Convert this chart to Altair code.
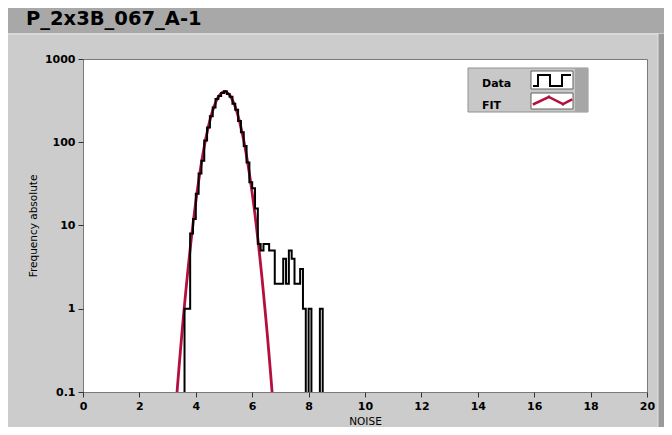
import altair as alt
import pandas as pd

# ---------------- data ----------------
# histogram (left bin edges, bin width 0.1) and counts
bin_left = [3.5, 3.6, 3.7, 3.8, 3.9, 4.0, 4.1, 4.2, 4.3, 4.4, 4.5, 4.6, 4.7, 4.8, 4.9,
            5.0, 5.1, 5.2, 5.3, 5.4, 5.5, 5.6, 5.7, 5.8, 5.9, 6.0, 6.1, 6.2, 6.3, 6.4,
            6.5, 6.6, 6.7, 6.8, 6.9, 7.0, 7.1, 7.2, 7.3, 7.4, 7.5, 7.6, 7.7, 7.8, 7.9,
            8.0, 8.1, 8.2, 8.3, 8.4, 8.5, 8.6]
counts = [0, 1, 1, 8, 12, 24, 42, 60, 105, 150, 205, 262, 330, 360, 390,
          410, 380, 352, 290, 245, 180, 132, 90, 57, 33, 28, 16, 6, 5, 6,
          6, 5, 5, 2, 2, 2, 4, 2, 5, 4, 2, 2, 3, 1, 0,
          1, 0, 0, 0, 1, 0, 0]

# fitted curve (x, frequency)
fit_x = [3.30, 3.35, 3.40, 3.45, 3.50, 3.55, 3.60, 3.65, 3.70, 3.75, 3.80, 3.85, 3.90,
         3.95, 4.00, 4.05, 4.10, 4.15, 4.20, 4.25, 4.30, 4.35, 4.40, 4.45, 4.50, 4.55,
         4.60, 4.65, 4.70, 4.75, 4.80, 4.85, 4.90, 4.95, 5.00, 5.05, 5.10, 5.15, 5.20,
         5.25, 5.30, 5.35, 5.40, 5.45, 5.50, 5.55, 5.60, 5.65, 5.70, 5.75, 5.80, 5.85,
         5.90, 5.95, 6.00, 6.05, 6.10, 6.15, 6.20, 6.25, 6.30, 6.35, 6.40, 6.45, 6.50,
         6.55, 6.60, 6.65, 6.70, 6.75]
fit_y = [0.0708, 0.116, 0.188, 0.300, 0.471, 0.729, 1.11, 1.67, 2.48, 3.62, 5.21, 7.39, 10.3,
         14.2, 19.3, 25.8, 34.0, 44.2, 56.6, 71.4, 88.9, 109, 131, 156, 183, 212,
         241, 271, 300, 327, 351, 372, 388, 399, 404, 404, 397, 385, 368,
         347, 321, 294, 265, 236, 206, 178, 151, 127, 105, 85.1, 68.2, 54.0,
         42.1, 32.3, 24.4, 18.2, 13.4, 9.66, 6.90, 4.85, 3.36, 2.30, 1.54, 1.02, 0.668,
         0.431, 0.273, 0.171, 0.105, 0.064]

x_ticks = [0, 2, 4, 6, 8, 10, 12, 14, 16, 18, 20]
y_ticks = [0.1, 1, 10, 100, 1000]

title_text = "P_2x3B_067_A-1"
x_title = "NOISE"
y_title = "Frequency absolute"
legend_labels = ["Data", "FIT"]

# ---------------- styling ----------------
PANEL = "#cccccc"
TITLEBAR = "#a8a8a8"
RED = "#b3103f"
FONT = "DejaVu Sans"
W, H = 564, 333

hist = pd.DataFrame({"x": bin_left,
                     "y": [c if c > 0 else 0.01 for c in counts]})
fit = pd.DataFrame({"x": fit_x, "y": fit_y})
one = pd.DataFrame({"a": [0]})

xs = alt.Scale(domain=[0, 20], nice=False, zero=False)
ys = alt.Scale(type="log", domain=[0.1, 1000], nice=False)

x_axis = alt.Axis(values=x_ticks, format="d", title=x_title, grid=False, domain=False,
                  tickSize=5, tickColor="#333333", labelPadding=3, labelFlush=False,
                  labelFont=FONT, labelFontWeight="bold", labelFontSize=11, labelColor="black",
                  titleFont=FONT, titleFontWeight="normal", titleFontSize=10.5, titleColor="black",
                  titlePadding=5)
y_axis = alt.Axis(values=y_ticks, format="~g", title=y_title, grid=False, domain=False,
                  tickSize=5, tickColor="#333333", labelPadding=3, labelFlush=False,
                  labelFont=FONT, labelFontWeight="bold", labelFontSize=11, labelColor="black",
                  titleFont=FONT, titleFontWeight="normal", titleFontSize=10.5, titleColor="black",
                  titleX=-50, titleY=H / 2, titleAngle=270, titleAlign="center",
                  titleBaseline="middle")

fit_line = alt.Chart(fit).mark_line(color=RED, strokeWidth=2.8, clip=True).encode(
    x=alt.X("x:Q", scale=xs, axis=x_axis),
    y=alt.Y("y:Q", scale=ys, axis=y_axis),
)
data_line = alt.Chart(hist).mark_line(color="black", strokeWidth=2, clip=True,
                                      interpolate="step-after").encode(
    x=alt.X("x:Q", scale=xs),
    y=alt.Y("y:Q", scale=ys),
)

base = alt.Chart(one)

def rect(x1, x2, y1, y2, color, stroke=None):
    kw = dict(color=color)
    if stroke:
        kw.update(stroke=stroke, strokeWidth=1)
    return base.mark_rect(**kw).encode(x=alt.value(x1), x2=alt.value(x2),
                                       y=alt.value(y1), y2=alt.value(y2))

def seg(x1, y1, x2, y2, color, width):
    return base.mark_rule(color=color, strokeWidth=width, strokeCap="square").encode(
        x=alt.value(x1), x2=alt.value(x2), y=alt.value(y1), y2=alt.value(y2))

# window decorations (pixel positions relative to plot area)
titlebar = rect(-90, 600, -70, -26, TITLEBAR)
panel_hl = seg(-75, -25, 575, -25, "#e6e6e6", 1)
right_bevel = rect(575, 590, -25, 380, "#9a9a9a")
right_hl = seg(575, -25, 575, 380, "#e0e0e0", 1)
title_mark = base.mark_text(text=title_text, font=FONT, fontWeight="bold", fontSize=19.5,
                            align="left", baseline="alphabetic", color="black").encode(
    x=alt.value(-57), y=alt.value(-34))

# legend box
lg_bg = rect(385, 505, 9, 53, "#c8c8c8", stroke="#909090")
lg_bevel = rect(492, 505, 9, 53, "#a6a6a6")
lg_box1 = rect(448, 490, 12, 30, "white", stroke="#606060")
lg_box2 = rect(448, 490, 34, 50, "white", stroke="#606060")
lg_t1 = base.mark_text(text=legend_labels[0], font=FONT, fontWeight="bold", fontSize=11,
                       align="left", color="black").encode(x=alt.value(399), y=alt.value(25))
lg_t2 = base.mark_text(text=legend_labels[1], font=FONT, fontWeight="bold", fontSize=11,
                       align="left", color="black").encode(x=alt.value(399), y=alt.value(47))
step_icon = [seg(451, 27, 455, 27, "black", 2), seg(455, 27, 455, 16, "black", 2),
             seg(455, 16, 467, 16, "black", 2), seg(467, 16, 467, 27, "black", 2),
             seg(467, 27, 479, 27, "black", 2), seg(479, 27, 479, 16, "black", 2),
             seg(479, 16, 487, 16, "black", 2)]
zig_icon = [seg(451, 45, 466, 38, RED, 2.5), seg(466, 38, 480, 45, RED, 2.5),
            seg(480, 45, 488, 41, RED, 2.5)]

chart = alt.layer(
    titlebar, panel_hl, right_bevel, right_hl, title_mark,
    fit_line, data_line,
    lg_bg, lg_bevel, lg_box1, lg_box2, lg_t1, lg_t2, *step_icon, *zig_icon,
).properties(
    width=W, height=H,
    autosize=alt.AutoSizeParams(type="none"),
    padding={"left": 75, "top": 51, "right": 17, "bottom": 35},
    background=PANEL,
).configure_view(
    fill="white", stroke="#7a7a7a", strokeWidth=1
)

chart.save("out.html", embed_options={"renderer": "svg", "actions": False})
